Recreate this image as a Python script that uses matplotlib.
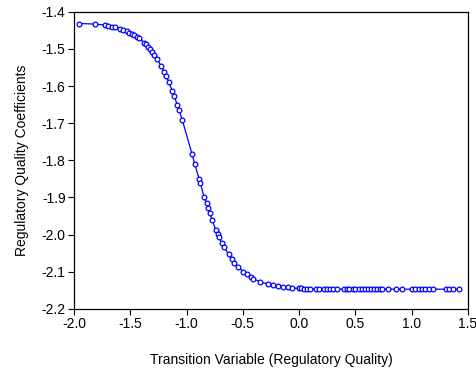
import matplotlib
matplotlib.use("Agg")
import matplotlib.pyplot as plt

# transition variable (x) and estimated coefficients (y)
tv = [-1.955, -1.81, -1.727, -1.695, -1.66, -1.636, -1.59, -1.562, -1.532, -1.51,
      -1.488, -1.464, -1.443, -1.425, -1.376, -1.36, -1.34, -1.325, -1.307, -1.287,
      -1.26, -1.227, -1.198, -1.183, -1.159, -1.127, -1.109, -1.083, -1.067, -1.038,
      -0.95, -0.928, -0.887, -0.878, -0.843, -0.822, -0.81, -0.795, -0.772, -0.739,
      -0.724, -0.71, -0.689, -0.668, -0.626, -0.6, -0.576, -0.541, -0.496, -0.46,
      -0.431, -0.408, -0.348, -0.28, -0.23, -0.186, -0.141, -0.097, -0.067, -0.004,
      0.016, 0.045, 0.072, 0.096, 0.149, 0.179, 0.22, 0.244, 0.273, 0.303,
      0.333, 0.398, 0.422, 0.445, 0.475, 0.496, 0.528, 0.555, 0.582, 0.611,
      0.638, 0.664, 0.688, 0.715, 0.741, 0.789, 0.86, 0.913, 1.002, 1.031,
      1.061, 1.09, 1.117, 1.15, 1.194, 1.304, 1.333, 1.363, 1.422]
coef = [-1.4315, -1.433, -1.436, -1.438, -1.44, -1.441, -1.446, -1.45, -1.453, -1.456,
        -1.459, -1.463, -1.467, -1.47, -1.483, -1.487, -1.495, -1.5, -1.508, -1.516,
        -1.527, -1.546, -1.561, -1.572, -1.588, -1.613, -1.626, -1.651, -1.664, -1.691,
        -1.784, -1.809, -1.851, -1.86, -1.9, -1.916, -1.928, -1.941, -1.961, -1.988,
        -1.998, -2.007, -2.022, -2.033, -2.053, -2.067, -2.076, -2.087, -2.1, -2.107,
        -2.113, -2.119, -2.127, -2.133, -2.137, -2.139, -2.14, -2.142, -2.143, -2.145,
        -2.145, -2.146, -2.146, -2.146, -2.147, -2.147, -2.147, -2.147, -2.147, -2.147,
        -2.147, -2.147, -2.147, -2.147, -2.147, -2.147, -2.147, -2.147, -2.147, -2.147,
        -2.147, -2.147, -2.147, -2.147, -2.147, -2.147, -2.147, -2.147, -2.147, -2.147,
        -2.147, -2.147, -2.147, -2.147, -2.147, -2.147, -2.147, -2.147, -2.147]

xticks = [-2.0, -1.5, -1.0, -0.5, 0.0, 0.5, 1.0, 1.5]
yticks = [-1.4, -1.5, -1.6, -1.7, -1.8, -1.9, -2.0, -2.1, -2.2]

plt.rcParams['font.family'] = ['Liberation Sans', 'DejaVu Sans']

fig = plt.figure(figsize=(4.77, 3.69), dpi=100)
ax = fig.add_axes([0.155, 0.163, 0.826, 0.805])

ax.plot(tv, coef, color='#0000ff', lw=0.9, marker='o', ms=3.4,
        mfc='white', mec='#0000ff', mew=0.9)

ax.set_xlim(-2.0, 1.5)
ax.set_ylim(-2.2, -1.4)
ax.set_xticks(xticks)
ax.set_yticks(yticks)
ax.set_xticklabels([f"{t:.1f}" for t in xticks])
ax.set_yticklabels([f"{t:.1f}" for t in yticks])
ax.tick_params(direction='out', length=4, width=0.8, labelsize=10, pad=2)
for s in ax.spines.values():
    s.set_linewidth(0.9)

ax.set_xlabel('Transition Variable (Regulatory Quality)', fontsize=10, labelpad=16)
ax.set_ylabel('Regulatory Quality Coefficients', fontsize=10, labelpad=9)

fig.savefig('out.png', dpi=100)
